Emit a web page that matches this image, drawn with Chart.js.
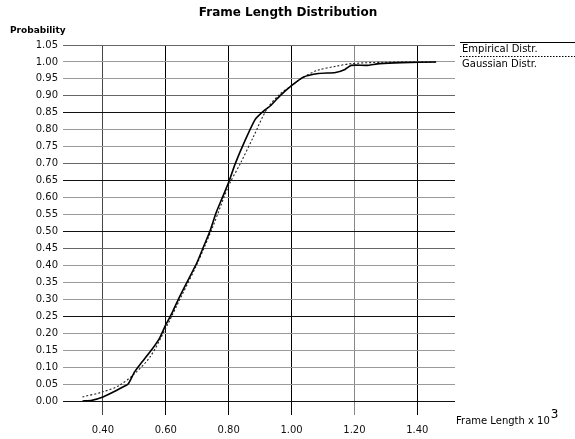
<!DOCTYPE html>
<html lang="en">
<head>
<meta charset="utf-8">
<script src="https://cdn.jsdelivr.net/npm/chart.js@4.4.0/dist/chart.umd.min.js"></script>
<style>
  html, body { margin: 0; padding: 0; background: #fff; }
  #wrap { width: 575px; height: 439px; position: relative; }
</style>
</head>
<body>
<div id="wrap"><canvas id="cdfChart" width="575" height="439"></canvas></div>
<script>
// empirical distribution (solid)
const empX = [0.335, 0.365, 0.40, 0.43, 0.46, 0.48, 0.50, 0.52, 0.55, 0.58, 0.60, 0.62, 0.64, 0.67, 0.70, 0.72, 0.74, 0.76, 0.78, 0.80, 0.821, 0.853, 0.884, 0.911, 0.932, 0.963, 1.00, 1.037, 1.085, 1.14, 1.17, 1.19, 1.24, 1.28, 1.35, 1.46];
const empY = [0.000, 0.002, 0.012, 0.025, 0.040, 0.050, 0.085, 0.110, 0.145, 0.185, 0.225, 0.260, 0.300, 0.355, 0.410, 0.455, 0.500, 0.555, 0.600, 0.645, 0.700, 0.770, 0.830, 0.855, 0.870, 0.900, 0.930, 0.955, 0.966, 0.969, 0.978, 0.990, 0.990, 0.995, 0.998, 1.000];

// gaussian distribution (dotted)
const gauX = [0.335, 0.40, 0.45, 0.50, 0.55, 0.60, 0.65, 0.70, 0.75, 0.80, 0.837, 0.879, 0.921, 0.963, 1.00, 1.037, 1.085, 1.14, 1.19, 1.29, 1.46];
const gauY = [0.012, 0.027, 0.045, 0.080, 0.130, 0.215, 0.310, 0.405, 0.515, 0.635, 0.700, 0.780, 0.860, 0.905, 0.930, 0.955, 0.976, 0.987, 0.995, 0.999, 1.000];

// tick labels
const xTicks = [0.40, 0.60, 0.80, 1.00, 1.20, 1.40];
const yTicks = [0.00, 0.05, 0.10, 0.15, 0.20, 0.25, 0.30, 0.35, 0.40, 0.45, 0.50, 0.55, 0.60, 0.65, 0.70, 0.75, 0.80, 0.85, 0.90, 0.95, 1.00, 1.05];

const toPoints = (xs, ys) => xs.map((x, i) => ({ x: x, y: ys[i] }));

// grid line shades as they look in the scan
const yDark = [0.00, 0.25, 0.50, 0.65, 0.85];
const yMid = [0.45, 0.70, 0.90, 1.05];
const xShade = { "0.4": "#444", "1.2": "#888" };

const FONT = "'DejaVu Sans', sans-serif";

// title, axis captions and the legend on the right
const decorations = {
  id: "decorations",
  afterDraw(chart) {
    const c = chart.ctx;
    c.save();
    c.fillStyle = "#000";
    c.textBaseline = "middle";

    c.font = "bold 12px " + FONT;
    c.textAlign = "center";
    c.fillText("Frame Length Distribution", 288, 13);

    c.font = "bold 9px " + FONT;
    c.textAlign = "left";
    c.fillText("Probability", 10, 31);

    // x axis caption with superscript
    c.font = "10px " + FONT;
    const cap = "Frame Length x 10";
    c.fillText(cap, 456, 421);
    const w = c.measureText(cap).width;
    c.font = "12px " + FONT;
    c.fillText("3", 456 + w + 1, 415);

    // legend
    c.strokeStyle = "#000";
    c.lineWidth = 1;
    c.beginPath();
    c.moveTo(460, 42.5);
    c.lineTo(575, 42.5);
    c.stroke();
    c.setLineDash([1.5, 1.5]);
    c.beginPath();
    c.moveTo(460, 56.5);
    c.lineTo(575, 56.5);
    c.stroke();
    c.setLineDash([]);
    c.font = "10px " + FONT;
    c.fillText("Empirical Distr.", 462, 49);
    c.fillText("Gaussian Distr.", 462, 64);
    c.restore();
  }
};

const ctx = document.getElementById("cdfChart").getContext("2d");
new Chart(ctx, {
  type: "scatter",
  data: {
    datasets: [
      {
        label: "Empirical Distr.",
        data: toPoints(empX, empY),
        showLine: true,
        borderColor: "#000",
        borderWidth: 1.6,
        pointRadius: 0,
        tension: 0.2
      },
      {
        label: "Gaussian Distr.",
        data: toPoints(gauX, gauY),
        showLine: true,
        borderColor: "#222",
        borderWidth: 1.1,
        borderDash: [2, 2],
        pointRadius: 0,
        tension: 0.3
      }
    ]
  },
  options: {
    responsive: false,
    animation: false,
    layout: { padding: { top: 45, right: 120, left: 0, bottom: 0 } },
    plugins: {
      legend: { display: false },
      title: { display: false },
      tooltip: { enabled: false }
    },
    scales: {
      x: {
        type: "linear",
        min: 0.273,
        max: 1.52,
        afterBuildTicks: (scale) => { scale.ticks = xTicks.map(v => ({ value: v })); },
        afterFit: (scale) => { scale.height = 38; },
        border: { display: false },
        grid: {
          color: (c) => xShade[String(Math.round(c.tick.value * 10) / 10)] || "#000",
          lineWidth: 1,
          tickLength: 14
        },
        ticks: {
          padding: 9,
          color: "#111",
          font: { family: FONT, size: 10 },
          callback: (v) => Number(v).toFixed(2)
        }
      },
      y: {
        type: "linear",
        min: 0,
        max: 1.05,
        afterBuildTicks: (scale) => { scale.ticks = yTicks.map(v => ({ value: v })); },
        afterFit: (scale) => { scale.width = 63; },
        border: { display: false },
        grid: {
          color: (c) => {
            const v = Math.round(c.tick.value * 100) / 100;
            if (yDark.includes(v)) return "#111";
            if (yMid.includes(v)) return "#666";
            return "#9a9a9a";
          },
          lineWidth: 1,
          drawTicks: false
        },
        ticks: {
          padding: 5,
          color: "#111",
          font: { family: FONT, size: 10 },
          callback: (v) => Number(v).toFixed(2)
        }
      }
    }
  },
  plugins: [decorations]
});
</script>
</body>
</html>
